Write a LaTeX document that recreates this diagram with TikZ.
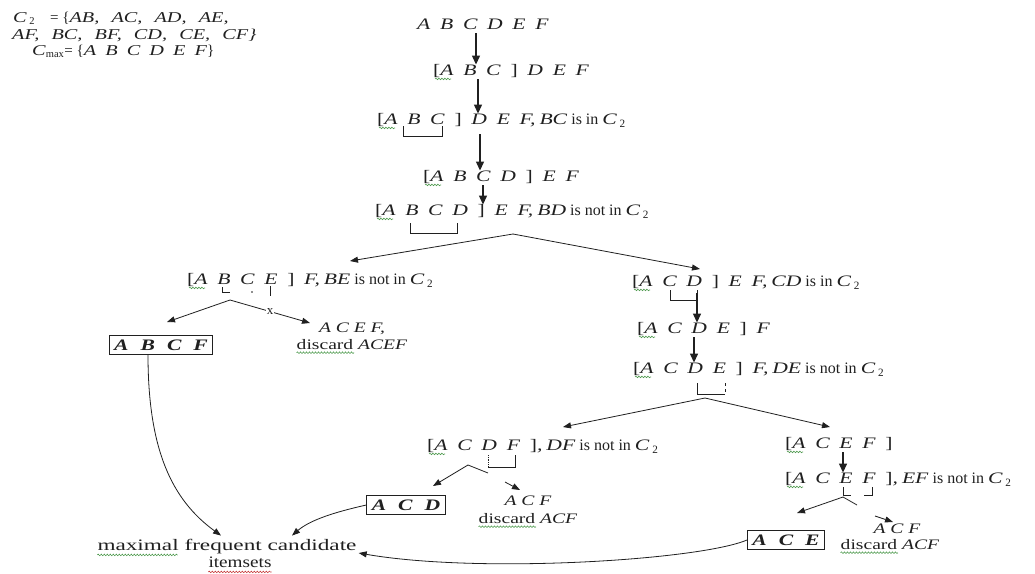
\documentclass[tikz,border=0pt]{standalone}
\usepackage{fontspec}
\setmainfont{Liberation Serif}
\usetikzlibrary{arrows.meta,calc,decorations.pathmorphing}
\definecolor{ink}{HTML}{202020}
\definecolor{sqg}{HTML}{4E9A4E}
\definecolor{sqr}{HTML}{C83C3C}
\newcommand\IC[1]{\scalebox{1.35}[1]{\textit{#1}}}
\newcommand\IB[1]{\scalebox{1.35}[1]{\bfseries\itshape #1}}
\newcommand\SW[1]{\scalebox{1.35}[1]{#1}}
\newcommand\gp{\hspace{0.45em}}
\newcommand\cgap{\hspace{0.6em}}
\newcommand\lbk{\textup{[}}
\newcommand\rbk{\textup{]}}
\newcommand\Ctwo{\IC{C}\,\textsubscript{2}}
\tikzset{
  base/.style={inner sep=0pt, text=ink},
  tl/.style={base, anchor=west, font=\fontsize{15}{18}\selectfont},
  tx/.style={base, anchor=west, font=\fontsize{16}{19}\selectfont, text height=11pt, text depth=3.5pt},
  sub/.style={base, font=\fontsize{14.5}{17}\selectfont, text height=10pt, text depth=3pt},
  big/.style={base, font=\fontsize{16}{19}\selectfont, text height=11pt, text depth=3.5pt},
  res/.style={draw=ink, line width=0.9pt, inner xsep=5pt, inner ysep=4pt, text=ink, font=\fontsize{16}{19}\selectfont},
  ln/.style={draw=ink, line width=0.8pt},
  arr/.style={ln, -{Triangle[length=8pt,width=6pt]}},
  varr/.style={draw=ink, line width=1.3pt, -{Triangle[length=9pt,width=8pt]}},
  brk/.style={draw=ink, line width=0.8pt},
  sqgreen/.style={draw=sqg, line width=0.6pt, decorate, decoration={snake, amplitude=0.8pt, segment length=3pt}},
  sqred/.style={draw=sqr, line width=0.6pt, decorate, decoration={snake, amplitude=0.8pt, segment length=3pt}},
}
\begin{document}
\begin{tikzpicture}[x=1pt,y=-1pt]
\useasboundingbox[fill=white] (0,0) rectangle (1035,573);

% top-left definitions
\node[tl] (t1) at (13,18) {\IC{C}\,\textsubscript{2}\hspace{15pt}= \{\IC{AB,\cgap AC,\cgap AD,\cgap AE,}};
\node[tl] (t2) at (12,35) {\IC{AF,\cgap BC,\cgap BF,\cgap CD,\cgap CE,\cgap CF\}}};
\node[tl] (t3) at (32,51) {\IC{C}\textsubscript{max}= \{\IC{A\gp B\gp C\gp D\gp E\gp F}\}};

% main chain
\node[tx] (n1) at (417,26) {\IC{A\gp B\gp C\gp D\gp E\gp F}};
\node[tx] (n2) at (433,72) {\IC{\lbk A\gp B\gp C\gp\rbk\gp D\gp E\gp F}};
\node[tx] (n3) at (377,121) {\IC{\lbk A\gp B\gp C\gp\rbk\gp D\gp E\gp F,} \IC{BC} is in \Ctwo};
\node[tx] (n4) at (423,178) {\IC{\lbk A\gp B\gp C\gp D\gp\rbk\gp E\gp F}};
\node[tx] (n5) at (375,212) {\IC{\lbk A\gp B\gp C\gp D\gp\rbk\gp E\gp F,} \IC{BD} is not in \Ctwo};
\node[tx] (n6) at (187,281) {\IC{\lbk A\gp B\gp C\gp E\gp\rbk\gp F,} \IC{BE} is not in \Ctwo};
\node[tx] (n7) at (632,283) {\IC{\lbk A\gp C\gp D\gp\rbk\gp E\gp F,} \IC{CD} is in \Ctwo};
\node[tx] (n8) at (637,330) {\IC{\lbk A\gp C\gp D\gp E\gp\rbk\gp F}};
\node[tx] (n9) at (633,370) {\IC{\lbk A\gp C\gp D\gp E\gp\rbk\gp F,} \IC{DE} is not in \Ctwo};
\node[tx] (n10) at (427,447) {\IC{\lbk A\gp C\gp D\gp F\gp\rbk,} \IC{DF} is not in \Ctwo};
\node[tx] (n11) at (785,445) {\IC{\lbk A\gp C\gp E\gp F\gp\rbk}};
\node[tx] (n12) at (785,480) {\IC{\lbk A\gp C\gp E\gp F\gp\rbk,} \IC{EF} is not in \Ctwo};

% results
\node[res] (abcf) at (161,345) {\IB{A}\hspace{12pt}\IB{B}\hspace{12pt}\IB{C}\hspace{12pt}\IB{F}};
\node[res] (acd) at (406,505) {\IB{A}\hspace{12pt}\IB{C}\hspace{12pt}\IB{D}};
\node[res] (ace) at (786,540) {\IB{A}\hspace{12pt}\IB{C}\hspace{12pt}\IB{E}};

\node[sub] (r1a) at (352,329) {\SW{\textit{A C E F,}}};
\node[sub] (r1b) at (352,346) {\SW{discard \textit{ACEF}}};
\node[sub] (r2a) at (528,502) {\SW{\textit{A C F}}};
\node[sub] (r2b) at (528,520) {\SW{discard \textit{ACF}}};
\node[sub] (r3a) at (897,530) {\SW{\textit{A C F}}};
\node[sub] (r3b) at (890,546) {\SW{discard \textit{ACF}}};

\node[big] (mfc) at (227,547) {\scalebox{1.45}[1]{maximal frequent candidate}};
\node[big] (its) at (240,564) {\scalebox{1.2}[1]{itemsets}};

% spell-check squiggles
\draw[sqgreen] ([yshift=-0.5pt]mfc.south west) -- ($(mfc.south west)!0.31!(mfc.south east)+(0,0.5)$);
\draw[sqred] ([yshift=-0.5pt]its.south west) -- ([yshift=-0.5pt]its.south east);
\draw[sqgreen] (r1b.south west) -- ($(r1b.south west)!0.52!(r1b.south east)$);
\draw[sqgreen] (r2b.south west) -- ($(r2b.south west)!0.58!(r2b.south east)$);
\draw[sqgreen] (r3b.south west) -- ($(r3b.south west)!0.58!(r3b.south east)$);
\foreach \n in {n2,n3,n4,n5,n6,n7,n8,n9,n10,n11,n12}
  \draw[sqgreen] ([xshift=2pt,yshift=0.5pt]\n.south west) -- ++(16,0);

% vertical arrows
\coordinate (x1) at (476,0);
\coordinate (x2) at (478,0);
\coordinate (x3) at (480,0);
\coordinate (x4) at (483,0);
\coordinate (x7) at (697,0);
\coordinate (x8) at (694,0);
\coordinate (x11) at (843,0);
\draw[varr] (n1.south -| x1) -- (n2.north -| x1);
\draw[varr] (n2.south -| x2) -- (n3.north -| x2);
\draw[varr] ([yshift=-6pt]n3.south -| x3) -- (n4.north -| x3);
\draw[varr] (n4.south -| x4) -- (n5.north -| x4);
\draw[varr] ([yshift=-3pt]n7.south -| x7) -- (n8.north -| x7);
\draw[varr] (n8.south -| x8) -- (n9.north -| x8);
\draw[varr] (n11.south -| x11) -- (n12.north -| x11);

% brackets under letters
\draw[brk] (403,126) -- (403,136) -- (442,136) -- (442,126);
\draw[brk] (410,223) -- (410,233) -- (457,233) -- (457,223);
\draw[brk] (222,287) -- (222,292) -- (230,292);
\fill[ink] (252,292) circle (0.9);
\draw[brk] (270,286) -- (270,296);
\draw[brk] (670,290) -- (670,300) -- (697,300) -- (697,290);
\draw[brk] (697,383) -- (697,394) -- (725,394);
\draw[brk, dashed] (725,383) -- (725,394);
\draw[brk, densely dotted] (488,455) -- (488,467);
\draw[brk] (488,467) -- (515,467) -- (515,455);
\draw[brk] (843,487) -- (843,495) -- (851,495);
\draw[brk] (864,495) -- (872,495) -- (872,487);

% branches
\coordinate (ap5) at (513,234);
\coordinate (tp5l) at (350,261);
\coordinate (tp5r) at (700,269);
\draw[arr] (ap5) -- (tp5l);
\draw[arr] (ap5) -- (tp5r);

\coordinate (ap6) at (230,300);
\coordinate (tp6l) at (167,322);
\coordinate (tp6r) at (310,323);
\draw[arr] (ap6) -- (tp6l);
\draw[arr] (ap6) -- node[fill=white, inner sep=1pt, text=ink, font=\fontsize{13}{15}\selectfont] (xm) {x} (tp6r);

\coordinate (ap9) at (705,398);
\coordinate (tp9l) at (563,427);
\coordinate (tp9r) at (830,427);
\draw[arr] (ap9) -- (tp9l);
\draw[arr] (ap9) -- (tp9r);

\coordinate (ap10) at (468,465);
\coordinate (tp10l) at (433,486);
\coordinate (mk10) at (488,473);
\coordinate (sa10) at (505,482);
\coordinate (tp10r) at (520,490);
\draw[arr] (ap10) -- (tp10l);
\draw[ln] (ap10) -- (mk10);
\draw[arr] (sa10) -- (tp10r);

\coordinate (ap12) at (843,497);
\coordinate (tp12l) at (797,513);
\coordinate (mk12) at (857,505);
\coordinate (sa12) at (875,516);
\coordinate (tp12r) at (893,522);
\draw[arr] (ap12) -- (tp12l);
\draw[ln] (ap12) -- (mk12);
\draw[arr] (sa12) -- (tp12r);

% to maximal frequent candidate itemsets
\draw[arr] ([xshift=-13pt]abcf.south) .. controls (148,450) and (172,500) .. ([xshift=-6pt,yshift=4pt]mfc.north);
\draw[arr] (acd.west) .. controls (335,512) and (310,520) .. ([xshift=65pt,yshift=4pt]mfc.north);
\draw[arr] (ace.west) .. controls (700,560) and (480,574) .. ([xshift=2pt,yshift=-6pt]mfc.east);
\end{tikzpicture}
\end{document}
